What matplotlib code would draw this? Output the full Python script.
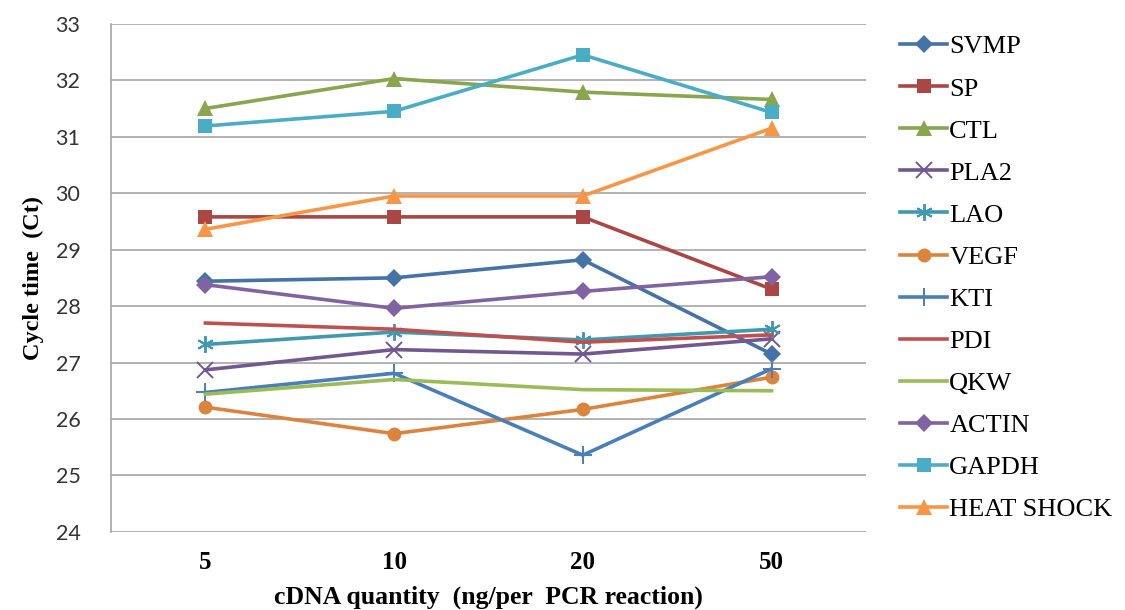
import matplotlib
matplotlib.use("Agg")
import matplotlib.pyplot as plt
import numpy as np

# cDNA amounts on the x axis (plotted as evenly spaced categories)
quantities = ["5", "10", "20", "50"]

svmp = [28.44, 28.50, 28.82, 27.15]
sp = [29.58, 29.58, 29.58, 28.30]
ctl = [31.50, 32.03, 31.79, 31.66]
pla2 = [26.87, 27.23, 27.15, 27.42]
lao = [27.32, 27.54, 27.40, 27.59]
vegf = [26.21, 25.74, 26.17, 26.74]
kti = [26.47, 26.81, 25.36, 26.89]
pdi = [27.70, 27.59, 27.36, 27.49]
qkw = [26.44, 26.70, 26.52, 26.50]
actin = [28.38, 27.96, 28.26, 28.52]
gapdh = [31.19, 31.45, 32.45, 31.43]
heat_shock = [29.36, 29.95, 29.95, 31.15]

series = [
    ("SVMP", svmp, "#4572a7", "D", 9),
    ("SP", sp, "#aa4643", "s", 10),
    ("CTL", ctl, "#89a54e", "^", 11),
    ("PLA2", pla2, "#71588f", "x", 11),
    ("LAO", lao, "#4198af", (6, 2, 0), 12),
    ("VEGF", vegf, "#db843d", "o", 10),
    ("KTI", kti, "#4a7ebb", "+", 13),
    ("PDI", pdi, "#c0504d", None, 0),
    ("QKW", qkw, "#9bbb59", None, 0),
    ("ACTIN", actin, "#8064a2", "D", 9),
    ("GAPDH", gapdh, "#4bacc6", "s", 10),
    ("HEAT SHOCK", heat_shock, "#f79646", "^", 11),
]

serif = ["Liberation Serif", "DejaVu Serif"]

fig = plt.figure(figsize=(11.25, 6.1), dpi=100)
ax = fig.add_axes([0.0987, 0.128, 0.671, 0.833])

xs = np.arange(len(quantities))
for name, vals, color, marker, ms in series:
    if marker is None:
        ax.plot(xs, vals, color=color, lw=2.6, label=name)
    else:
        mew = 1.4 if marker in ("x", "+") or isinstance(marker, tuple) else 0
        ax.plot(xs, vals, color=color, lw=2.6, marker=marker, markersize=ms,
                markeredgewidth=mew, markeredgecolor=color, label=name)

ax.set_xlim(-0.5, len(quantities) - 0.5)
ax.set_ylim(24, 33)
ax.set_yticks(range(24, 34))
ax.set_xticks(xs, quantities)
ax.yaxis.grid(True, color="#a6a6a6", lw=1.2)
ax.set_axisbelow(True)
for side in ("top", "right", "bottom"):
    ax.spines[side].set_visible(False)
ax.spines["left"].set_color("#a6a6a6")
ax.spines["left"].set_linewidth(1.2)
ax.tick_params(axis="both", length=0)
ax.tick_params(axis="y", pad=22, labelsize=15.5, labelcolor="#333333")
ax.tick_params(axis="x", pad=14)
for lbl in ax.get_yticklabels():
    lbl.set_family(["Lato", "DejaVu Sans"])
for lbl in ax.get_xticklabels():
    lbl.set_family(serif)
    lbl.set_fontweight("bold")
    lbl.set_fontsize(18)

ax.set_xlabel("cDNA quantity  (ng/per  PCR reaction)", family=serif,
              fontweight="bold", fontsize=18.5, labelpad=8)
ax.set_ylabel("Cycle time  (Ct)", family=serif, fontweight="bold",
              fontsize=17.5, labelpad=8)

leg = ax.legend(loc="upper left", bbox_to_anchor=(0.791, 0.96),
                bbox_transform=fig.transFigure, frameon=False,
                prop={"family": serif, "size": 19}, labelspacing=0.705,
                handlelength=1.75, handletextpad=0.1, borderaxespad=0)

fig.savefig("out.png", dpi=100)
